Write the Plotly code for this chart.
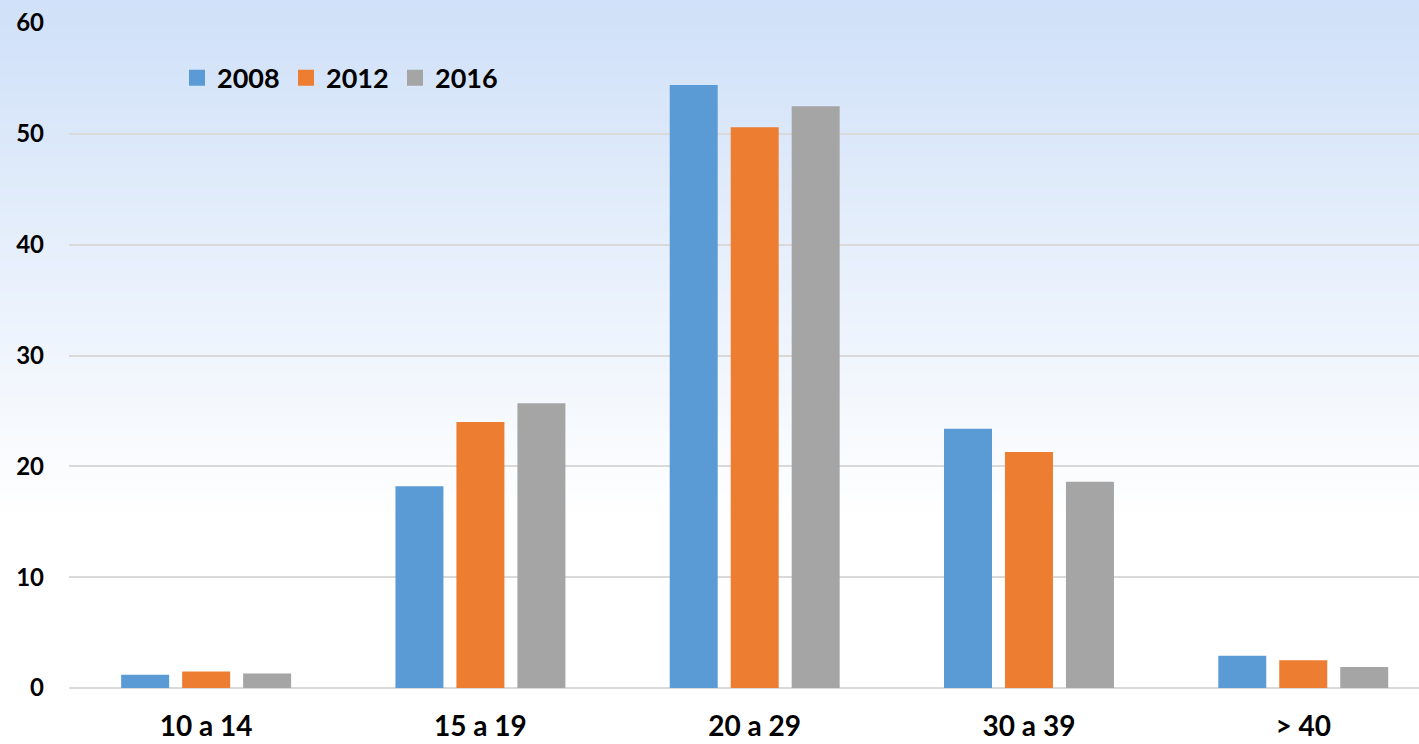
import plotly.graph_objects as go

categories = ["10 a 14", "15 a 19", "20 a 29", "30 a 39", "> 40"]
years = ["2008", "2012", "2016"]
values_2008 = [1.2, 18.2, 54.4, 23.4, 2.9]
values_2012 = [1.5, 24.0, 50.6, 21.3, 2.5]
values_2016 = [1.3, 25.7, 52.5, 18.6, 1.9]
y_ticks = [0, 10, 20, 30, 40, 50, 60]
colors = ["#5B9BD5", "#ED7D31", "#A5A5A5"]

series = [values_2008, values_2012, values_2016]

fig = go.Figure()
for name, vals, col in zip(years, series, colors):
    fig.add_trace(go.Bar(x=categories, y=vals, name=name, legendgroup=name, showlegend=False,
                         marker=dict(color=col, line=dict(width=0))))
# legend entries with larger square swatches
for name, col in zip(years, colors):
    fig.add_trace(go.Scatter(x=[None], y=[None], mode="markers", name=name, legendgroup=name,
                             marker=dict(symbol="square", size=18, color=col), showlegend=True))

# background gradient (light blue at top fading to white)
W, H = 1419, 744
ml, mr, mt, mb = 69, 0, 23, 56
ph = H - mt - mb
pw = W - ml - mr
top = (207, 224, 248)
shapes = []
n = 80
grad_end = 520
for i in range(n):
    py0 = grad_end * i / n
    py1 = grad_end * (i + 1) / n + 1
    t = (i + 0.5) / n
    c = tuple(int(round(top[k] + (255 - top[k]) * t)) for k in range(3))
    shapes.append(dict(type="rect", xref="paper", yref="paper",
                       x0=-ml / pw, x1=1.0, y0=(H - mb - py1) / ph, y1=(H - mb - py0) / ph,
                       fillcolor="rgb(%d,%d,%d)" % c, line=dict(width=0), layer="below"))

font_family = "Lato, 'Open Sans', sans-serif"
fig.update_layout(
    width=W, height=H,
    margin=dict(l=ml, r=mr, t=mt, b=mb),
    paper_bgcolor="white",
    plot_bgcolor="rgba(0,0,0,0)",
    shapes=shapes,
    barmode="group",
    bargap=0.333,
    bargroupgap=0.213,
    font=dict(family=font_family, color="black"),
    legend=dict(orientation="h", x=0.08, y=0.917, yanchor="middle", xanchor="left",
                font=dict(size=27, family=font_family, weight="bold"),
                itemsizing="trace",
                bgcolor="rgba(0,0,0,0)", entrywidth=64, entrywidthmode="pixels"),
    showlegend=True,
)
# the reference crops the plot on the right: about 4.92 categories are visible
fig.update_xaxes(showgrid=False, ticks="", showline=False, range=[-0.5, 4.422], automargin=False,
                 tickfont=dict(size=28, family=font_family, weight="bold"),
                 ticklabelstandoff=19)
fig.update_yaxes(range=[0, 60], tickvals=y_ticks, showgrid=True, gridcolor="#D9D9D9", gridwidth=1.5,
                 zeroline=True, zerolinecolor="#D9D9D9", zerolinewidth=2, automargin=False,
                 ticks="", showline=False,
                 tickfont=dict(size=24, family=font_family, weight="bold"),
                 ticklabelstandoff=24)

fig.write_html("out.html", config={"displayModeBar": False},
               post_script="document.body.style.margin='0';")
